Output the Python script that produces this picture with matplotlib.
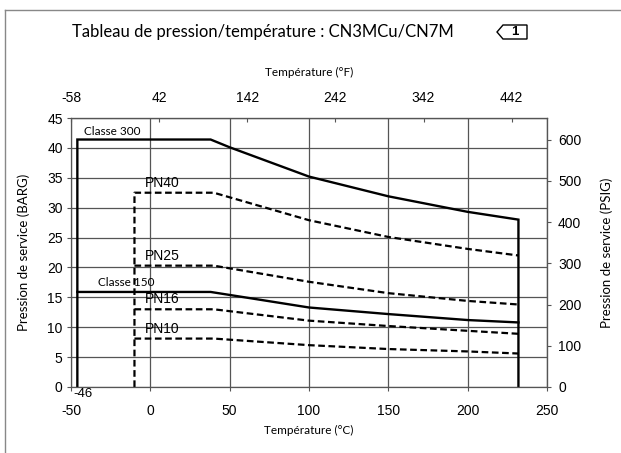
import matplotlib
matplotlib.use("Agg")
import matplotlib.pyplot as plt
from matplotlib.patches import Polygon
from matplotlib.lines import Line2D

# Pressure / temperature ratings (temperature in °C, pressure in bar g)
temps_classe = [-46, 38, 50, 100, 150, 200, 232]
classe300 = [41.4, 41.4, 40.1, 35.2, 31.9, 29.3, 28.0]
classe150 = [15.9, 15.9, 15.4, 13.3, 12.2, 11.2, 10.8]

temps_pn = [-10, 40, 100, 150, 200, 232]
pn40 = [32.5, 32.5, 27.9, 25.1, 23.1, 22.0]
pn25 = [20.3, 20.3, 17.6, 15.7, 14.4, 13.8]
pn16 = [13.0, 13.0, 11.1, 10.2, 9.4, 8.9]
pn10 = [8.1, 8.1, 7.0, 6.35, 5.95, 5.6]

c_ticks = [-50, 0, 50, 100, 150, 200, 250]
f_ticks = [-58, 42, 142, 242, 342, 442]
bar_ticks = [0, 5, 10, 15, 20, 25, 30, 35, 40, 45]
psi_ticks = [0, 100, 200, 300, 400, 500, 600]
PSI_PER_BAR = 14.5038

plt.rcParams["axes.unicode_minus"] = False
tick_font = "Liberation Sans"
label_font = "Lato"

fig = plt.figure(figsize=(6.21, 4.53), dpi=100)
ax = fig.add_axes([71 / 621, 66 / 453, 476 / 621, 269 / 453])

grid_col = "#555555"
ax.set_xlim(-50, 250)
ax.set_ylim(0, 45)
ax.set_xticks(c_ticks)
ax.set_yticks(bar_ticks)
ax.grid(True, color=grid_col, linewidth=0.9)
ax.set_axisbelow(True)
for s in ax.spines.values():
    s.set_color(grid_col)
    s.set_linewidth(0.9)
ax.tick_params(direction="out", length=3, color=grid_col, labelsize=10, pad=3)
ax.tick_params(axis="x", pad=9)
for lab in ax.get_xticklabels() + ax.get_yticklabels():
    lab.set_fontfamily(tick_font)

# solid class lines
ax.plot([temps_classe[0]] + temps_classe + [temps_classe[-1]],
        [0] + classe300 + [0], color="black", lw=1.7, solid_joinstyle="miter")
ax.plot(temps_classe, classe150, color="black", lw=1.7)

# dashed PN lines
dash = (0, (3, 1.6))
ax.plot([temps_pn[0]] + temps_pn, [0] + pn40, color="black", lw=1.6, linestyle=dash)
for serie in (pn25, pn16, pn10):
    ax.plot(temps_pn, serie, color="black", lw=1.6, linestyle=dash)

# curve labels
ax.text(-42, 42.2, "Classe 300", fontsize=8.5, family=label_font)
ax.text(-33, 16.9, "Classe 150", fontsize=8.5, family=label_font)
for name, serie in (("PN40", pn40), ("PN25", pn25), ("PN16", pn16), ("PN10", pn10)):
    ax.text(-3.5, serie[0] + 1.0, name, fontsize=10, family=tick_font)
ax.text(-48.5, -0.2, "-46", fontsize=9.5, family=tick_font, va="top")

ax.set_xlabel("Température (°C)", fontsize=8.5, family=label_font, labelpad=5)
ax.set_ylabel("Pression de service (BARG)", fontsize=9.5, family=label_font, labelpad=12)

# right axis: psi
axr = ax.secondary_yaxis("right", functions=(lambda b: b * PSI_PER_BAR,
                                             lambda p: p / PSI_PER_BAR))
axr.set_yticks(psi_ticks)
axr.tick_params(direction="out", length=3, color=grid_col, labelsize=10, pad=5)
for lab in axr.get_yticklabels():
    lab.set_fontfamily(tick_font)
axr.set_ylabel("Pression de service (PSIG)", fontsize=9.5, family=label_font, labelpad=14)
axr.spines["right"].set_color(grid_col)

# top axis: °F
axt = ax.secondary_xaxis("top", functions=(lambda c: c * 9 / 5 + 32,
                                           lambda f: (f - 32) * 5 / 9))
axt.set_xticks(f_ticks)
axt.tick_params(direction="in", length=3, color=grid_col, labelsize=10, pad=9)
for lab in axt.get_xticklabels():
    lab.set_fontfamily(tick_font)
axt.set_xlabel("Température (°F)", fontsize=8.5, family=label_font, labelpad=11)
axt.spines["top"].set_color(grid_col)

# title and reference tag
fig.text(263 / 621, 1 - 32 / 453, "Tableau de pression/température : CN3MCu/CN7M",
         ha="center", va="center", fontsize=12, family=label_font)
tag = [(497, 32), (503, 25), (527, 25), (527, 39), (503, 39)]
fig.add_artist(Polygon([(x / 621, 1 - y / 453) for x, y in tag], closed=True,
                       fill=False, edgecolor="black", lw=1.0,
                       transform=fig.transFigure))
fig.text(515 / 621, 1 - 32 / 453, "1", ha="center", va="center",
         fontsize=9.5, fontweight="bold", family=tick_font)

# page frame lines
fig.add_artist(Line2D([5 / 621, 1], [1 - 10 / 453] * 2, color="#888888", lw=1,
                      transform=fig.transFigure))
fig.add_artist(Line2D([5 / 621] * 2, [0, 1 - 10 / 453], color="#888888", lw=1,
                      transform=fig.transFigure))

fig.savefig("out.png", dpi=100)
